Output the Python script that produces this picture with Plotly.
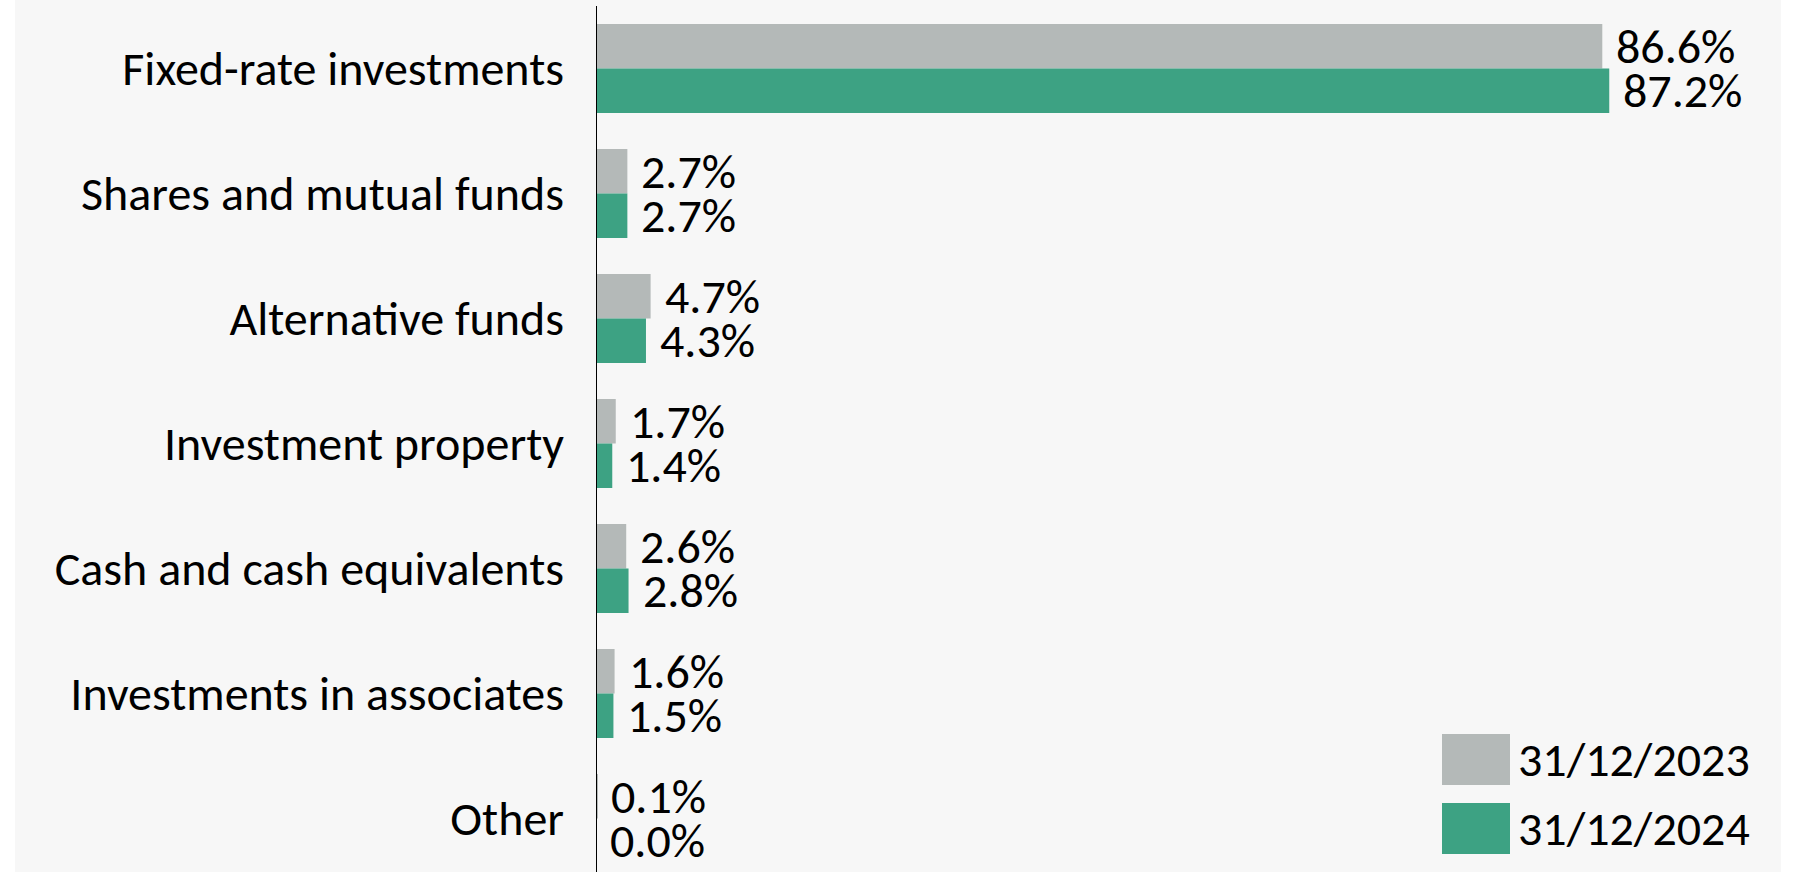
import plotly.graph_objects as go

# Asset allocation of the investment portfolio, share of total (%)
categories = [
    "Fixed-rate investments",
    "Shares and mutual funds",
    "Alternative funds",
    "Investment property",
    "Cash and cash equivalents",
    "Investments in associates",
    "Other",
]
series_names = ["31/12/2023", "31/12/2024"]
values_2023 = [86.6, 2.7, 4.7, 1.7, 2.6, 1.6, 0.1]
values_2024 = [87.2, 2.7, 4.3, 1.4, 2.8, 1.5, 0.0]
series_colors = ["#b4b9b8", "#3da283"]

FONT = "Carlito, Lato, sans-serif"
FONT_SIZE = 48
BARGAP = 0.288

W, H = 1795, 872
M_L, M_R, M_T, M_B = 596, 14, 6, 0

fig = go.Figure()
for name, vals, col in zip(series_names, [values_2023, values_2024], series_colors):
    fig.add_trace(go.Bar(
        y=categories, x=vals, orientation="h", name=name,
        marker=dict(color=col, line=dict(width=0)),
        showlegend=False, hoverinfo="x+y",
    ))

# value labels beside each bar
half = (1 - BARGAP) / 4
annotations = []
for k, vals in enumerate([values_2023, values_2024]):
    off = -half if k == 0 else half
    for i, v in enumerate(vals):
        annotations.append(dict(
            x=v, y=i + off, xref="x", yref="y",
            text=f"{v:.1f}%", showarrow=False,
            xanchor="left", yanchor="middle", xshift=12,
            font=dict(family=FONT, size=FONT_SIZE, color="#000000"),
        ))

# legend drawn as large swatches in the lower right
pw = W - M_L - M_R
ph = H - M_T - M_B
def px_x(x):
    return (x - M_L) / pw
def px_y(y):
    return (H - M_B - y) / ph

shapes = [
    # light panel behind the chart
    dict(type="rect", xref="paper", yref="paper",
         x0=px_x(15), x1=px_x(1781), y0=px_y(H), y1=px_y(0),
         fillcolor="#f7f7f7", line=dict(width=0), layer="below"),
    # vertical baseline at zero, drawn over the bars
    dict(type="line", xref="x", yref="paper", x0=0, x1=0, y0=0, y1=1,
         line=dict(color="#000000", width=2), layer="above"),
]
swatch_tops = [734, 803]
for name, col, top in zip(series_names, series_colors, swatch_tops):
    shapes.append(dict(type="rect", xref="paper", yref="paper",
                       x0=px_x(1442), x1=px_x(1510),
                       y0=px_y(top + 51), y1=px_y(top),
                       fillcolor=col, line=dict(width=0)))
    annotations.append(dict(
        x=px_x(1516), y=px_y(top + 25.5), xref="paper", yref="paper",
        text=name, showarrow=False, xanchor="left", yanchor="middle",
        font=dict(family=FONT, size=FONT_SIZE, color="#000000"),
    ))

fig.update_layout(
    width=W, height=H,
    margin=dict(l=M_L, r=M_R, t=M_T, b=M_B, pad=0),
    paper_bgcolor="#ffffff",
    plot_bgcolor="rgba(0,0,0,0)",
    barmode="group", bargap=BARGAP, bargroupgap=0,
    font=dict(family=FONT, size=FONT_SIZE, color="#000000"),
    xaxis=dict(range=[0, (W - M_R - M_L) / 11.62], visible=False,
               showgrid=False, zeroline=False, fixedrange=True),
    yaxis=dict(range=[6.428, -0.5], showgrid=False, zeroline=False,
               showline=False, ticks="", ticklabelstandoff=31,
               tickfont=dict(family=FONT, size=FONT_SIZE, color="#000000")),
    shapes=shapes,
    annotations=annotations,
)

fig.write_html("out.html")
